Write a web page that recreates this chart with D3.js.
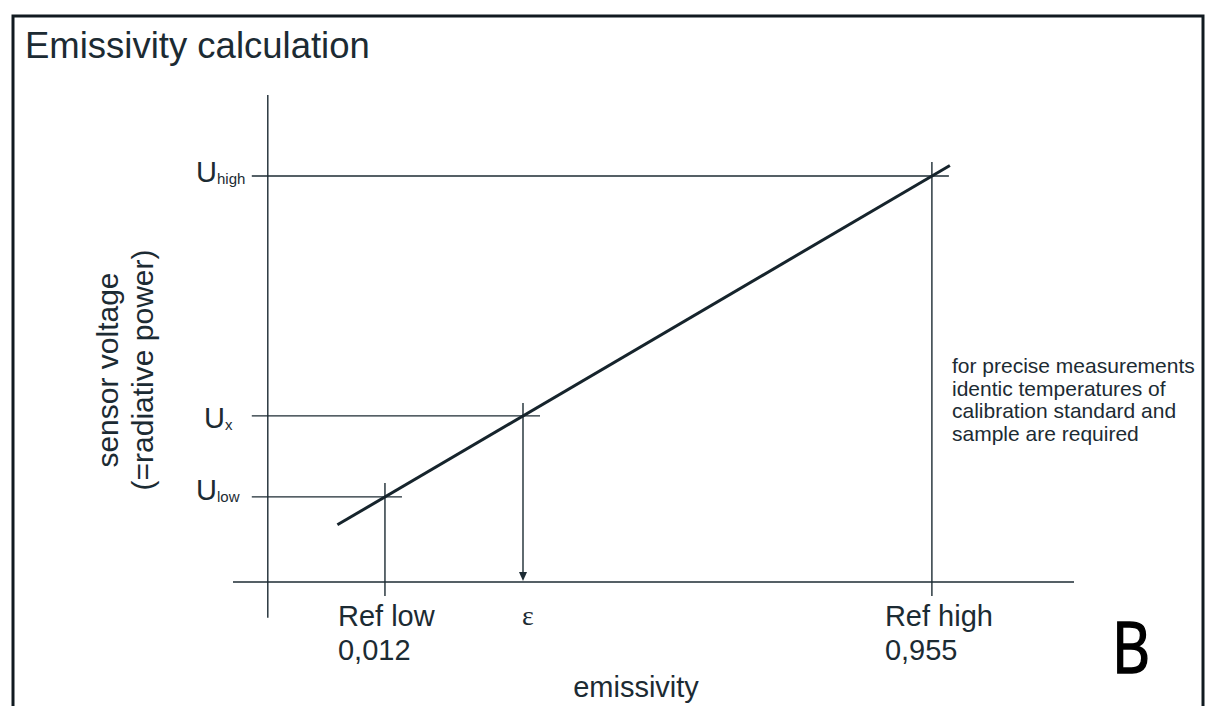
<html>
<head>
<title>Emissivity calculation</title>
<style>
body { margin: 0; background-color: #ffffff; }
</style>
<script src="https://d3js.org/d3.v7.min.js"></script>
</head>
<body>
<div id="chart"></div>
<script type="text/javascript">
// reference standards (emissivity) and the measured sample
var refNames = ["Ref low", "Ref high"];
var refValues = ["0,012", "0,955"];
var refEmissivity = [0.012, 0.955];
var sampleEmissivity = 0.25;

// voltage levels, labelled U_low, U_x, U_high
var uSubscripts = ["low", "x", "high"];
var uEmissivity = [0.012, 0.25, 0.955];

// calibration line end points (emissivity)
var lineStart = -0.07;
var lineEnd = 0.986;

var noteLines = ["for precise measurements", "identic temperatures of",
                 "calibration standard and", "sample are required"];

var width = 1210, height = 706;
var col = "#1c2b33";
var sans = "Liberation Sans, Arial, sans-serif";

var svg = d3.select("#chart").append("svg")
    .attr("width", width)
    .attr("height", height)
    .style("font-family", sans);

// frame
svg.append("rect")
    .attr("x", 13).attr("y", 16)
    .attr("width", 1190).attr("height", 720)
    .attr("fill", "none")
    .attr("stroke", "#111a20")
    .attr("stroke-width", 3);

svg.append("text")
    .attr("x", 25).attr("y", 58)
    .attr("font-size", "36.5px")
    .attr("fill", col)
    .text("Emissivity calculation");

// scales: emissivity on x, sensor voltage (same units) on y
var x = d3.scaleLinear().domain([-0.25, 1.2]).range([233, 1074]);
var y = d3.scaleLinear().domain([-0.238, 1.193]).range([582, 95]);

var g = svg.append("g")
    .attr("stroke", col)
    .attr("stroke-width", 1.4)
    .attr("fill", "none");

// axes
g.append("line")
    .attr("x1", x(-0.25)).attr("x2", x(1.2))
    .attr("y1", y(-0.238)).attr("y2", y(-0.238));
g.append("line")
    .attr("x1", x(-0.19)).attr("x2", x(-0.19))
    .attr("y1", y(1.193)).attr("y2", y(-0.343));

// horizontal guide lines at each voltage
g.selectAll(".hguide")
    .data(uEmissivity)
    .enter().append("line")
    .attr("x1", x(-0.19) - 16)
    .attr("x2", function(d) { return x(d) + 17; })
    .attr("y1", function(d) { return y(d); })
    .attr("y2", function(d) { return y(d); });

// vertical guides at reference emissivities
g.selectAll(".vguide")
    .data(refEmissivity)
    .enter().append("line")
    .attr("x1", function(d) { return x(d); })
    .attr("x2", function(d) { return x(d); })
    .attr("y1", function(d) { return y(d) - 14; })
    .attr("y2", y(-0.238) + 14);

// arrow down to epsilon
g.append("line")
    .attr("x1", x(sampleEmissivity)).attr("x2", x(sampleEmissivity))
    .attr("y1", y(sampleEmissivity) - 13).attr("y2", y(-0.238) - 8);
svg.append("path")
    .attr("d", "M" + (x(sampleEmissivity) - 4) + "," + (y(-0.238) - 10) +
               "L" + (x(sampleEmissivity) + 4) + "," + (y(-0.238) - 10) +
               "L" + x(sampleEmissivity) + "," + (y(-0.238) - 1) + "Z")
    .attr("fill", col);

// calibration line
svg.append("line")
    .attr("x1", x(lineStart)).attr("y1", y(lineStart))
    .attr("x2", x(lineEnd)).attr("y2", y(lineEnd))
    .attr("stroke", "#16242c")
    .attr("stroke-width", 3);

// U labels (baseline shift per label as in the original drawing)
var uShift = {low: 3, x: 12, high: 6};
var uLab = svg.selectAll(".ulab")
    .data(uSubscripts)
    .enter().append("text")
    .attr("x", function(d) { return d == "x" ? 204 : 196; })
    .attr("y", function(d, i) { return y(uEmissivity[i]) + uShift[d]; })
    .attr("font-size", "29px")
    .attr("fill", col);
uLab.append("tspan").text("U");
uLab.append("tspan")
    .attr("font-size", "15px")
    .attr("dy", 2)
    .text(function(d) { return d; });

// ref labels under the x axis
refNames.forEach(function(name, i) {
    var t = svg.append("text")
        .attr("x", x(refEmissivity[i]) - 47)
        .attr("y", 626)
        .attr("font-size", "29px")
        .attr("fill", col);
    t.append("tspan").text(name);
    t.append("tspan")
        .attr("x", x(refEmissivity[i]) - 47)
        .attr("dy", 34)
        .text(refValues[i]);
});

svg.append("text")
    .attr("x", x(sampleEmissivity) + 5)
    .attr("y", 625)
    .attr("text-anchor", "middle")
    .style("font-family", "Liberation Serif, serif")
    .attr("font-size", "28px")
    .attr("fill", col)
    .text("\u03b5");

svg.append("text")
    .attr("x", 636).attr("y", 697)
    .attr("text-anchor", "middle")
    .attr("font-size", "29px")
    .attr("fill", col)
    .text("emissivity");

// y axis label
var yl = svg.append("text")
    .attr("text-anchor", "middle")
    .attr("font-size", "30px")
    .attr("fill", col)
    .attr("transform", "translate(118,370) rotate(-90)");
yl.append("tspan").attr("x", 0).attr("y", 0).text("sensor voltage");
yl.append("tspan").attr("x", 0).attr("y", 35).text("(=radiative power)");

// note on the right
svg.append("g").selectAll("text")
    .data(noteLines)
    .enter().append("text")
    .attr("x", 952)
    .attr("y", function(d, i) { return 373 + i * 22.7; })
    .attr("font-size", "21px")
    .attr("fill", col)
    .text(function(d) { return d; });

svg.append("text")
    .attr("transform", "translate(1112,673) scale(0.83,1)")
    .style("font-family", "Open Sans, sans-serif")
    .attr("font-size", "71px")
    .attr("fill", "#000")
    .attr("stroke", "#000")
    .attr("stroke-width", 1.6)
    .text("B");
</script>
</body>
</html>
